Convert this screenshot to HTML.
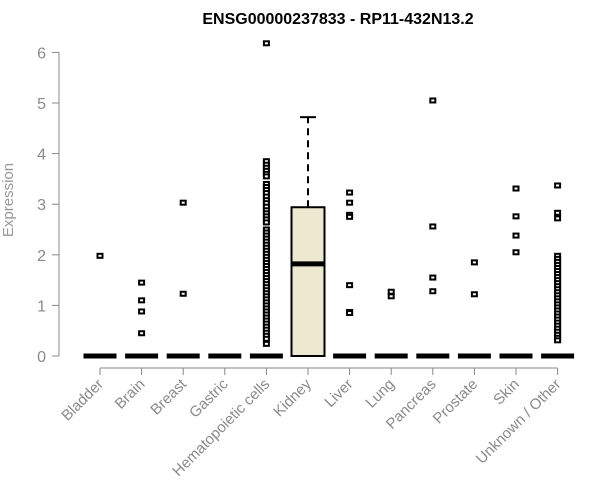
<!DOCTYPE html>
<html><head><meta charset="utf-8"><style>
body{margin:0;background:#fff;}
svg{display:block;font-family:"Liberation Sans",Arial,sans-serif;}
</style></head><body>
<svg id="chart" width="600" height="500" viewBox="0 0 600 500" xmlns="http://www.w3.org/2000/svg">
<text x="338" y="24" text-anchor="middle" font-size="16" font-weight="bold">ENSG00000237833 - RP11-432N13.2</text>
<text transform="translate(13,200) rotate(-90)" text-anchor="middle" font-size="15" fill="#999">Expression</text>
<g id="axes"></g><g id="marks"></g>
</svg>
<script>
const categories=["Bladder","Brain","Breast","Gastric","Hematopoietic cells","Kidney","Liver","Lung","Pancreas","Prostate","Skin","Unknown / Other"];
const yTicks=[0,1,2,3,4,5,6];
const medians=[0,0,0,0,0,1.82,0,0,0,0,0,0];
const q1=[0,0,0,0,0,0,0,0,0,0,0,0];
const q3=[0,0,0,0,0,2.94,0,0,0,0,0,0];
const whiskerHigh=[0,0,0,0,0,4.72,0,0,0,0,0,0];
const outBladder=[1.98];
const outBrain=[1.45,1.10,0.88,0.45];
const outBreast=[3.03,1.23];
const outGastric=[];
const outHemato=[6.18,3.85,3.78,3.72,3.66,3.6,3.55,3.4,3.34,3.28,3.22,3.15,3.08,3.02,2.95,2.88,2.82,2.76,2.7,2.64,2.5,2.44,2.38,2.32,2.26,2.2,2.14,2.08,2.02,1.96,1.9,1.84,1.78,1.72,1.66,1.6,1.54,1.48,1.42,1.36,1.3,1.24,1.18,1.12,1.06,1.0,0.94,0.88,0.82,0.76,0.7,0.64,0.58,0.52,0.46,0.4,0.34,0.24];
const outKidney=[];
const outLiver=[3.23,3.03,2.79,2.75,1.40,0.87,0.85];
const outLung=[1.27,1.18];
const outPancreas=[5.05,2.56,1.55,1.28];
const outProstate=[1.85,1.22];
const outSkin=[3.31,2.76,2.38,2.05];
const outUnknown=[3.37,2.83,2.72,1.98,1.92,1.86,1.8,1.74,1.68,1.62,1.56,1.5,1.44,1.38,1.32,1.26,1.2,1.14,1.08,1.02,0.96,0.9,0.84,0.78,0.72,0.66,0.6,0.54,0.48,0.42,0.36,0.31];
const outliers=[outBladder,outBrain,outBreast,outGastric,outHemato,outKidney,outLiver,outLung,outPancreas,outProstate,outSkin,outUnknown];

const NS="http://www.w3.org/2000/svg";
const x=i=>100+i*41.6;
const y=v=>356-v*50.6;
function mk(tag,attrs,parent){const e=document.createElementNS(NS,tag);for(const k in attrs)e.setAttribute(k,attrs[k]);parent.appendChild(e);return e;}
const axes=document.getElementById('axes'),marks=document.getElementById('marks');
let e=mk('line',{x1:59,x2:59,y1:y(0),y2:y(6),stroke:'#888','stroke-width':1},axes);


yTicks.forEach(t=>{
 let l=mk('line',{x1:52,x2:59,y1:y(t),y2:y(t),stroke:'#888'},axes);
 
 
 let tx=mk('text',{x:46,y:y(t)+6,'text-anchor':'end','font-size':16,fill:'#8a8a8a'},axes);
 tx.textContent=t;
 
 
});
e=mk('line',{x1:x(0),x2:x(categories.length-1),y1:368,y2:368,stroke:'#888'},axes);


categories.forEach((c,i)=>{
 let l=mk('line',{x1:x(i),x2:x(i),y1:368,y2:375,stroke:'#888'},axes);
 
 
 let tx=mk('text',{x:0,y:0,'text-anchor':'end','font-size':15,fill:'#8a8a8a',transform:`translate(${x(i)+4},${385}) rotate(-45)`},axes);
 tx.textContent=c;
 
 
});
categories.forEach((c,i)=>{
 const cx=x(i),hw=16.5;
 if(q3[i]>q1[i]){
  let w=mk('line',{x1:cx,x2:cx,y1:y(q3[i]),y2:y(whiskerHigh[i]),stroke:'#000','stroke-width':2,'stroke-dasharray':'7,5'},marks);
  
  
  let cap=mk('line',{x1:cx-8,x2:cx+8,y1:y(whiskerHigh[i]),y2:y(whiskerHigh[i]),stroke:'#000','stroke-width':2},marks);
  
  
  let b=mk('rect',{x:cx-hw,y:y(q3[i]),width:hw*2,height:y(q1[i])-y(q3[i]),fill:'#ede8d0',stroke:'#000','stroke-width':2},marks);
  
  
 }
 let m=mk('line',{x1:cx-hw,x2:cx+hw,y1:y(medians[i]),y2:y(medians[i]),stroke:'#000','stroke-width':5},marks);
 
 
 outliers[i].forEach(v=>{
  let p=mk('rect',{x:cx-2.5,y:y(v)-2,width:5,height:4,fill:'#fff',stroke:'#000','stroke-width':2},marks);
  
  
 });
});
</script>
</body></html>
